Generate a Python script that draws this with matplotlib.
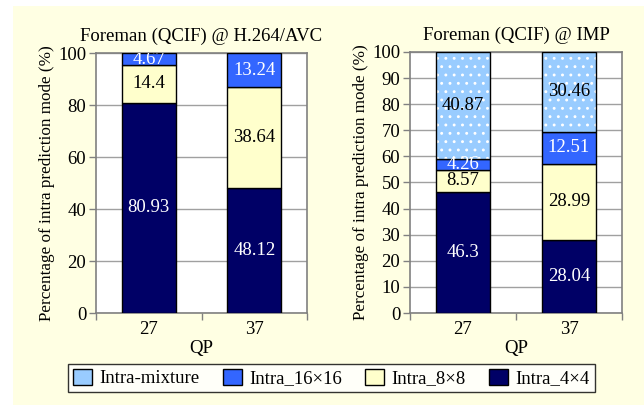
import matplotlib
matplotlib.use("Agg")
import matplotlib.pyplot as plt
from matplotlib.patches import Rectangle
import numpy as np

plt.rcParams['font.family'] = ['Liberation Serif', 'DejaVu Serif']
plt.rcParams['hatch.linewidth'] = 0.9

categories = ["27", "37"]
series_names = ["Intra-mixture", "Intra_16×16", "Intra_8×8", "Intra_4×4"]
colors = {"Intra-mixture": "#99CCFF", "Intra_16×16": "#3366FF",
          "Intra_8×8": "#FFFFCC", "Intra_4×4": "#000066"}
text_colors = {"Intra-mixture": "black", "Intra_16×16": "white",
               "Intra_8×8": "black", "Intra_4×4": "white"}

avc_4x4 = [80.93, 48.12]
avc_8x8 = [14.4, 38.64]
avc_16x16 = [4.67, 13.24]

imp_4x4 = [46.3, 28.04]
imp_8x8 = [8.57, 28.99]
imp_16x16 = [4.26, 12.51]
imp_mix = [40.87, 30.46]

left_ticks = [0, 20, 40, 60, 80, 100]
right_ticks = [0, 10, 20, 30, 40, 50, 60, 70, 80, 90, 100]

fig = plt.figure(figsize=(6.44, 4.05), dpi=100)
fig.patch.set_facecolor("white")
fig.patches.append(Rectangle((13/644, 0), 1 - 13/644, 1 - 6/405,
                             transform=fig.transFigure, facecolor="#FFFFE3",
                             edgecolor="none", zorder=-10))

ax1 = fig.add_axes([96/644, 1 - 313/405, 211/644, 260/405])
ax2 = fig.add_axes([410/644, 1 - 313/405, 212/644, 261/405])


def draw(ax, stacks, title, yticks):
    x = np.arange(len(categories))
    bottom = np.zeros(len(categories))
    width = 0.51
    for name, vals in stacks:
        vals = np.array(vals)
        if name == "Intra-mixture":
            ax.bar(x, vals, width, bottom=bottom, color=colors[name],
                   edgecolor="white", hatch="..", linewidth=0, zorder=3)
            ax.bar(x, vals, width, bottom=bottom, facecolor="none",
                   edgecolor="black", linewidth=1.0, zorder=4)
        else:
            ax.bar(x, vals, width, bottom=bottom, color=colors[name],
                   edgecolor="black", linewidth=1.0, zorder=3)
        for xi, b, v in zip(x, bottom, vals):
            ax.text(xi, b + v / 2, f"{v:g}", ha="center", va="center",
                    color=text_colors[name], fontsize=13.5, zorder=5,
                    clip_on=True)
        bottom = bottom + vals
    ax.set_xlim(-0.5, len(categories) - 0.5)
    ax.set_ylim(0, 100)
    ax.set_yticks(yticks)
    ax.set_xticks(x)
    ax.set_xticklabels(categories)
    ax.set_xticks([-0.5, 0.5, 1.5], minor=True)
    ax.tick_params(axis="x", which="major", length=0, labelsize=13.5, pad=6)
    ax.tick_params(axis="x", which="minor", length=5, color="#808080", width=1)
    ax.tick_params(axis="y", length=5, color="#808080", width=1, labelsize=13.5, pad=2)
    ax.grid(axis="y", color="#A0A0A0", linewidth=1, zorder=0)
    ax.set_axisbelow(True)
    for s in ax.spines.values():
        s.set_color("#808080")
        s.set_linewidth(1.2)
    ax.set_facecolor("white")
    ax.set_title(title, fontsize=13.5, pad=9)
    ax.set_xlabel("QP", fontsize=13.5, labelpad=1)
    ax.set_ylabel("Percentage of intra prediction mode (%)", fontsize=12.3, labelpad=2)


draw(ax1, [("Intra_4×4", avc_4x4), ("Intra_8×8", avc_8x8),
           ("Intra_16×16", avc_16x16)],
     "Foreman (QCIF) @ H.264/AVC", left_ticks)
draw(ax2, [("Intra_4×4", imp_4x4), ("Intra_8×8", imp_8x8),
           ("Intra_16×16", imp_16x16), ("Intra-mixture", imp_mix)],
     "Foreman (QCIF) @ IMP", right_ticks)

handles = []
for name in series_names:
    handles.append(Rectangle((0, 0), 1, 1, facecolor=colors[name],
                             edgecolor="black", linewidth=1.0))
leg = fig.legend(handles, series_names, loc="center",
                 bbox_to_anchor=((68 + 595) / 2 / 644, 1 - 378 / 405),
                 ncol=4, frameon=True, fancybox=False, fontsize=13.5,
                 handlelength=1.0, handleheight=1.0, columnspacing=1.25,
                 handletextpad=0.4, borderpad=0.25)
leg.get_frame().set_edgecolor("black")
leg.get_frame().set_linewidth(1.0)

fig.savefig("out.png", dpi=100)
